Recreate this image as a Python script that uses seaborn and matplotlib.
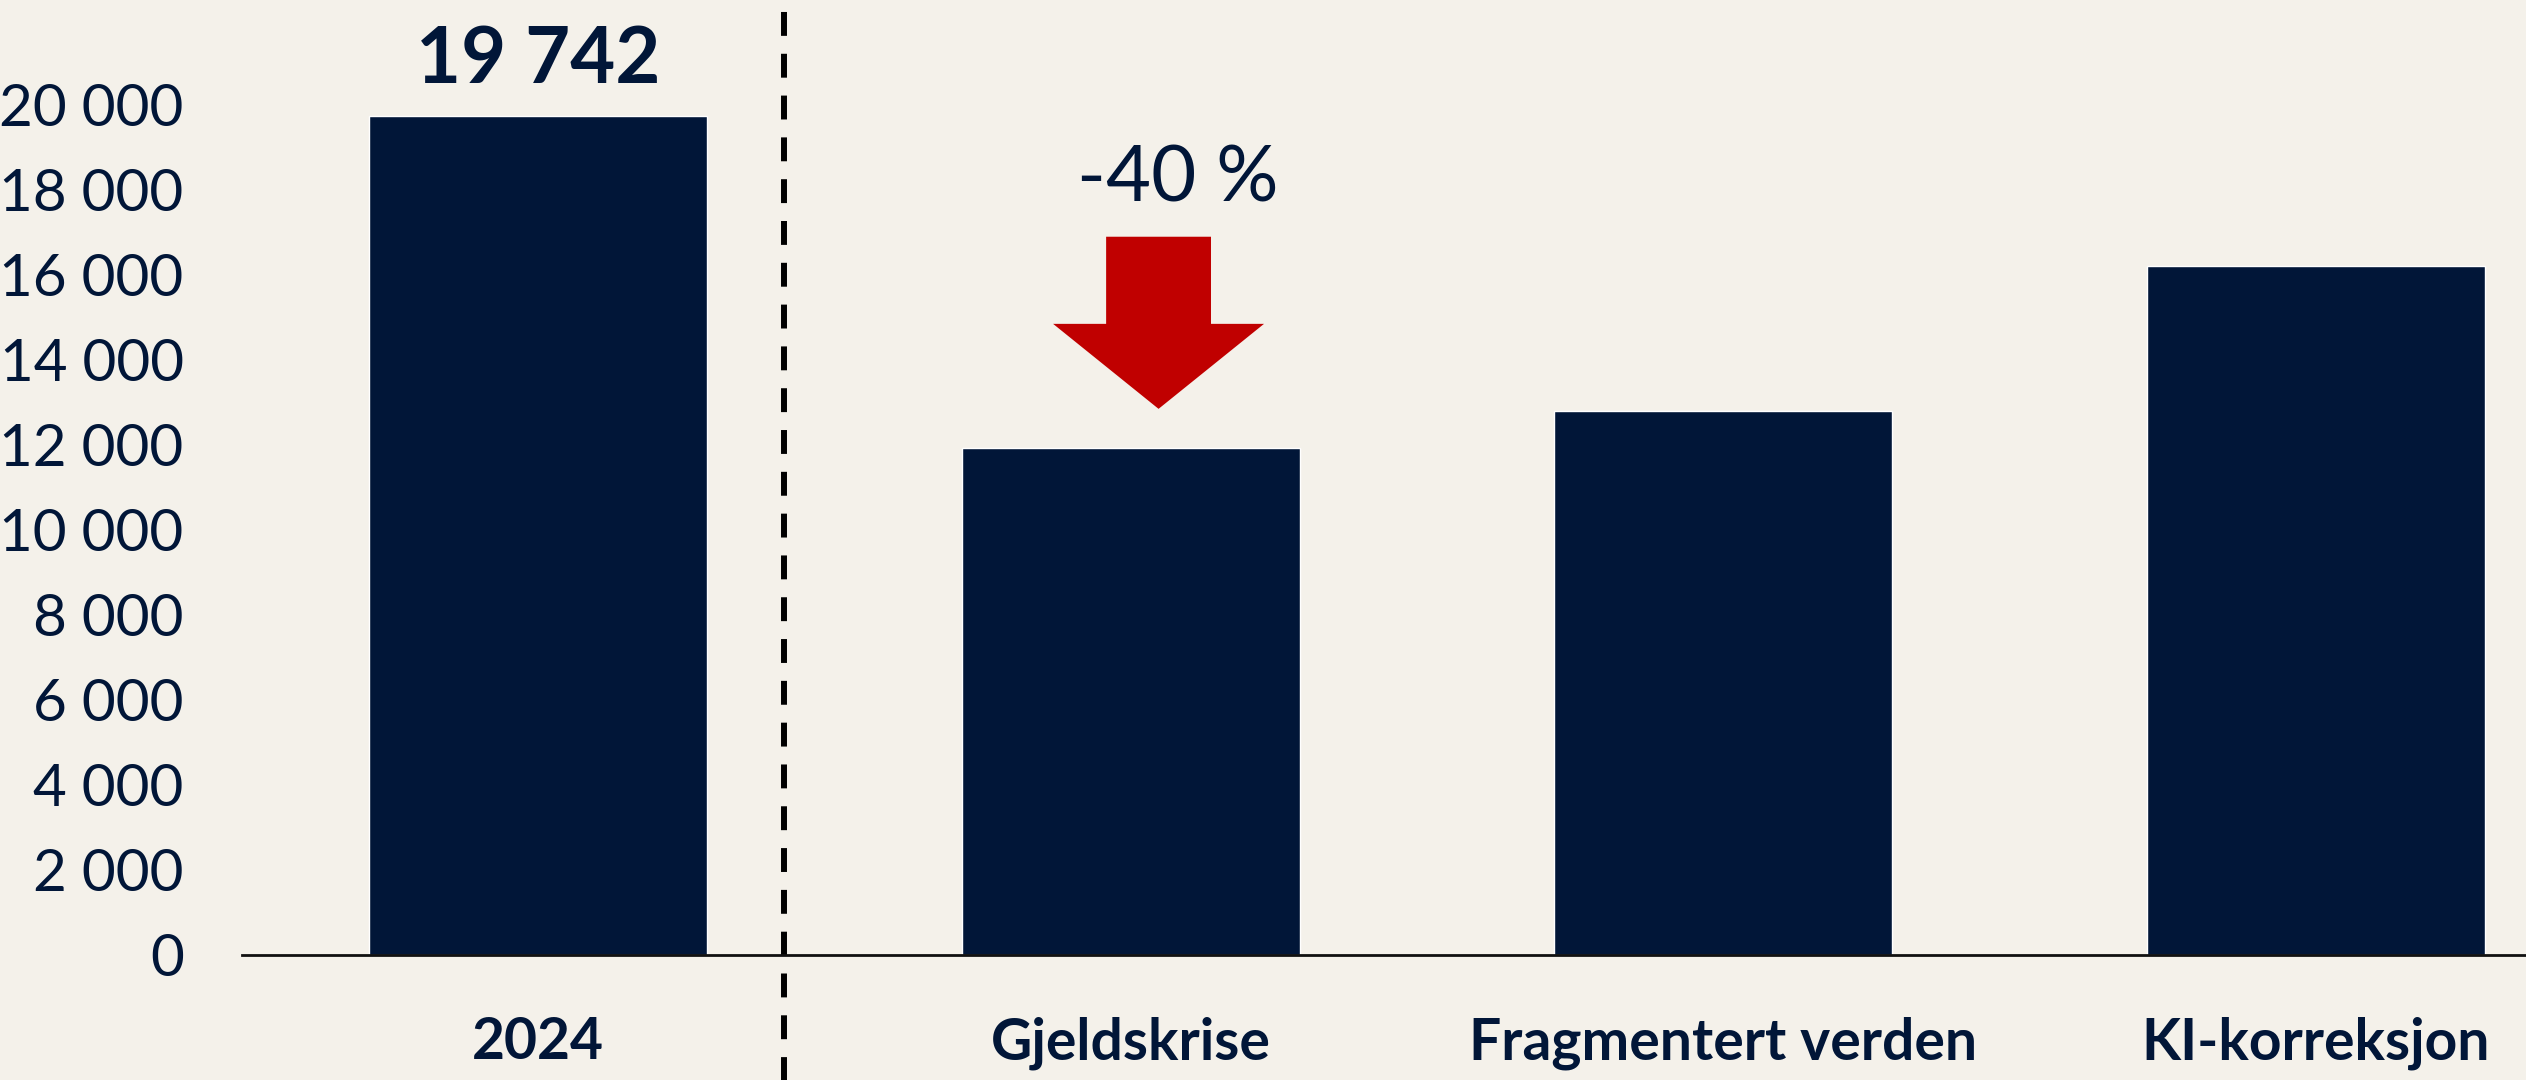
import numpy as np
import pandas as pd
import matplotlib
matplotlib.use("Agg")
import matplotlib.pyplot as plt
from matplotlib.patches import FancyArrow
import seaborn as sns

# Data
scenarios = ["2024", "Gjeldskrise", "Fragmentert verden", "KI-korreksjon"]
values = [19742, 11930, 12800, 16200]
yticks = [0, 2000, 4000, 6000, 8000, 10000, 12000, 14000, 16000, 18000, 20000]
drop_label = "-40 %"

navy = "#011638"
red = "#C00000"
bg = "#F4F1EA"

sns.set_theme(style="white")
plt.rcParams["font.family"] = ["Lato", "DejaVu Sans"]

df = pd.DataFrame({"scenario": scenarios, "value": values})

fig = plt.figure(figsize=(25.26, 10.8), dpi=100, facecolor=bg)
ax = fig.add_axes([242 / 2526, 125 / 1080, 1 - 242 / 2526, 955 / 1080])
ax.set_facecolor(bg)

sns.barplot(data=df, x="scenario", y="value", color=navy, width=0.57,
            saturation=1, ax=ax)

ax.set_xlim(-0.5, 3.355)
ax.set_ylim(0, 22470)
ax.set_yticks(yticks)
ax.set_yticklabels([f"{v:,.0f}".replace(",", " ") for v in yticks])
ax.set_xlabel("")
ax.set_ylabel("")

for s in ["top", "right", "left"]:
    ax.spines[s].set_visible(False)
ax.spines["bottom"].set_color("#111111")
ax.spines["bottom"].set_linewidth(2)

ax.tick_params(axis="y", length=0, pad=42, labelsize=42, labelcolor=navy)
ax.tick_params(axis="x", length=0, pad=44, labelsize=41, labelcolor=navy)
for lbl in ax.get_xticklabels():
    lbl.set_fontweight("bold")

# value label on the 2024 bar
ax.text(0, values[0] + 1300, f"{values[0]:,.0f}".replace(",", " "),
        ha="center", va="center", fontsize=56, fontweight="bold", color=navy)

# dashed separator between history and scenarios
ax.axvline(0.415, ymin=-0.14, ymax=1.0, color="black", lw=4.3,
           linestyle=(0, (4, 3)), clip_on=False)

# red drop arrow above Gjeldskrise
arrow_x = 1.047
tip = values[1] + 920
arrow = FancyArrow(arrow_x, tip + 4050, 0, -4050, width=0.177,
                   head_width=0.356, head_length=2000,
                   length_includes_head=True, color=red, lw=0)
ax.add_patch(arrow)
ax.text(arrow_x + 0.032, tip + 5390, drop_label, ha="center", va="center",
        fontsize=56, color=navy)

fig.savefig("out.png", dpi=100, facecolor=bg)
